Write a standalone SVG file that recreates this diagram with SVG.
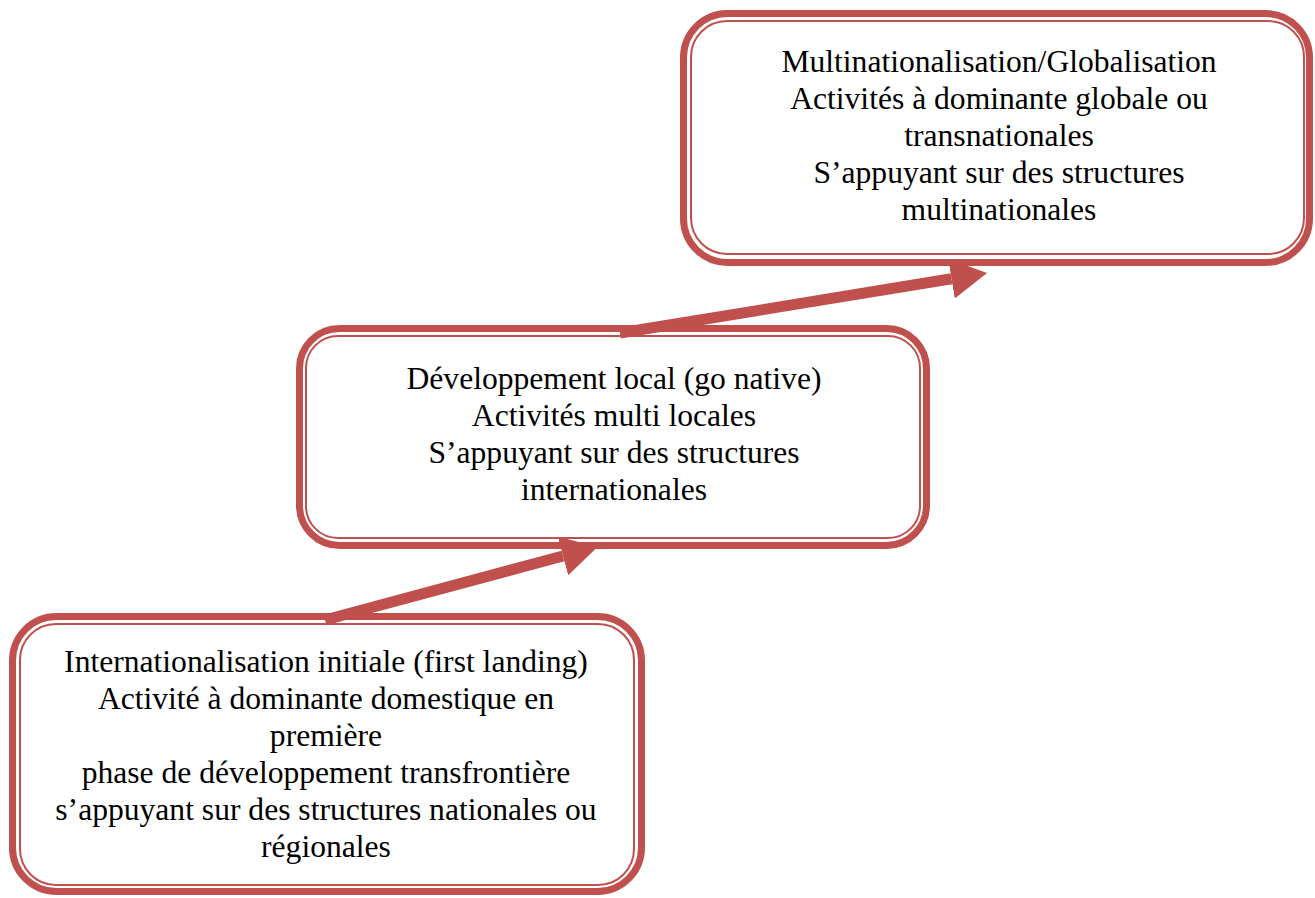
<svg xmlns="http://www.w3.org/2000/svg" width="1315" height="898" viewBox="0 0 1315 898">
  <style>
    .outer { fill: none; stroke: #C0504D; stroke-width: 7; }
    .inner { fill: none; stroke: #C0504D; stroke-width: 2; }
    .label { font-family: "Liberation Serif", "Times New Roman", serif; font-size: 31.6px; fill: #000; text-anchor: middle; }
    .conn { fill: none; stroke: #C0504D; stroke-width: 11; }
  </style>
  <defs>
    <marker id="head" viewBox="0 0 36 40" refX="0" refY="20" markerWidth="36" markerHeight="40" markerUnits="userSpaceOnUse" orient="auto">
      <path d="M0,0 L36,20 L0,40 z" fill="#C0504D"/>
    </marker>
  </defs>
  <rect width="1315" height="898" fill="#fff"/>

  <g id="connectors">
    <path class="conn" d="M325,620 L563,556" marker-end="url(#head)"/>
    <path class="conn" d="M620,333 L951.5,278.8" marker-end="url(#head)"/>
  </g>

  <g id="node-global">
    <rect class="outer" x="683.5" y="13.5" width="626" height="249" rx="44"/>
    <rect class="inner" x="691" y="21" width="613" height="233" rx="36"/>
    <text class="label" x="999" y="72">Multinationalisation/Globalisation</text>
    <text class="label" x="999" y="109">Activités à dominante globale ou</text>
    <text class="label" x="999" y="146">transnationales</text>
    <text class="label" x="999" y="183">S’appuyant sur des structures</text>
    <text class="label" x="999" y="220">multinationales</text>
  </g>

  <g id="node-local">
    <rect class="outer" x="299.5" y="328.5" width="627" height="217" rx="40"/>
    <rect class="inner" x="306" y="336" width="614" height="202" rx="32"/>
    <text class="label" x="614" y="389">Développement local (go native)</text>
    <text class="label" x="614" y="426">Activités multi locales</text>
    <text class="label" x="614" y="463">S’appuyant sur des structures</text>
    <text class="label" x="614" y="500">internationales</text>
  </g>

  <g id="node-initial">
    <rect class="outer" x="12.5" y="616.5" width="629" height="275" rx="44"/>
    <rect class="inner" x="20" y="624" width="614" height="261" rx="36"/>
    <text class="label" x="326" y="672">Internationalisation initiale (first landing)</text>
    <text class="label" x="326" y="709">Activité à dominante domestique en</text>
    <text class="label" x="326" y="746">première</text>
    <text class="label" x="326" y="783">phase de développement transfrontière</text>
    <text class="label" x="326" y="820">s’appuyant sur des structures nationales ou</text>
    <text class="label" x="326" y="857">régionales</text>
  </g>
</svg>
